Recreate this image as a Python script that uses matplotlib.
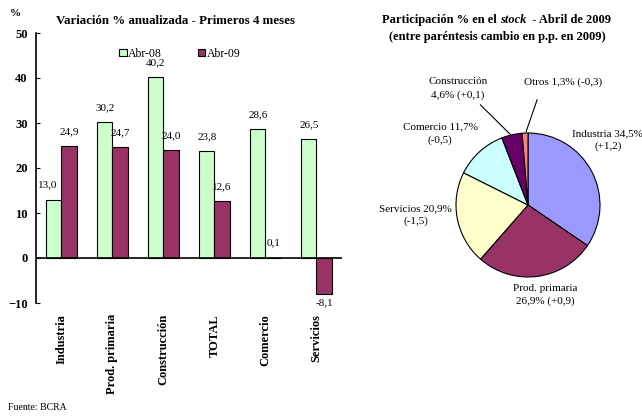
import numpy as np
import matplotlib
matplotlib.use("Agg")
import matplotlib.pyplot as plt

plt.rcParams['font.family'] = ['Liberation Serif', 'DejaVu Serif']

# --------------------------------------------------
# Data
# --------------------------------------------------

sectores = ["Industria", "Prod. primaria", "Construcción", "TOTAL", "Comercio", "Servicios"]
abr08 = [13.0, 30.2, 40.2, 23.8, 28.6, 26.5]
abr09 = [24.9, 24.7, 24.0, 12.6, 0.1, -8.1]

pie_names = ["Industria", "Prod. primaria", "Servicios", "Comercio", "Construcción", "Otros"]
pie_share = [34.5, 26.9, 20.9, 11.7, 4.6, 1.3]
pie_change = ["+1,2", "+0,9", "-1,5", "-0,5", "+0,1", "-0,3"]
pie_colors = ["#9999FF", "#993366", "#FFFFCC", "#CCFFFF", "#660066", "#FF8080"]

green = "#CCFFCC"
purple = "#993366"

W, H = 642, 416
fig = plt.figure(figsize=(W / 100, H / 100), dpi=100)


def px(x0, y0, x1, y1):
    return [x0 / W, 1 - y1 / H, (x1 - x0) / W, (y1 - y0) / H]


def fmt(v):
    return f"{v:.1f}".replace(".", ",")


# --------------------------------------------------
# Bar chart
# --------------------------------------------------

ax = fig.add_axes(px(36, 33, 342, 303))
x = np.arange(len(sectores))
bw = 0.3

ax.bar(x - bw / 2, abr08, bw, color=green, edgecolor="black", linewidth=0.8, label="Abr-08")
ax.bar(x + bw / 2, abr09, bw, color=purple, edgecolor="black", linewidth=0.8, label="Abr-09")

for i in range(len(sectores)):
    for off, v in [(-bw / 2, abr08[i]), (bw / 2, abr09[i])]:
        if i == 0 and off < 0:
            off -= 0.12   # label nudged left in the original
        if v >= 0:
            ax.text(i + off, v + 2.2, fmt(v), ha="center", va="bottom", fontsize=8)
        else:
            ax.text(i + off, v - 0.8, fmt(v), ha="center", va="top", fontsize=8)

ax.axhline(0, color="black", linewidth=1.2)
ax.set_xlim(-0.5, len(sectores) - 0.5)
ax.set_ylim(-10, 50)
ax.set_yticks(range(-10, 51, 10))
ax.tick_params(axis="y", direction="in", length=3, labelsize=9, pad=6)
for lbl in ax.get_yticklabels():
    lbl.set_fontweight("bold")
ax.set_xticks(x)
ax.set_xticklabels(sectores, rotation=90, fontsize=9, fontweight="bold", va="top")
ax.tick_params(axis="x", length=0, pad=8)
for s in ["top", "right", "bottom"]:
    ax.spines[s].set_visible(False)
ax.spines["left"].set_linewidth(1.2)

ax.legend(loc="upper center", bbox_to_anchor=(0.47, 0.985), ncol=2, frameon=False,
          fontsize=8.5, handlelength=0.6, handleheight=0.6, handletextpad=0.15,
          columnspacing=3.0)

fig.text(176 / W, 1 - 21 / H, "Variación % anualizada - Primeros 4 meses",
         ha="center", va="center", fontsize=9.3, fontweight="bold")
fig.text(10 / W, 1 - 14 / H, "%", ha="left", va="center", fontsize=8, fontweight="bold")
fig.text(8 / W, 1 - 408 / H, "Fuente: BCRA", ha="left", va="center", fontsize=7)

# --------------------------------------------------
# Pie chart
# --------------------------------------------------

pax = fig.add_axes(px(456, 133, 600, 277))
wedges, _ = pax.pie(pie_share, colors=pie_colors, startangle=90, counterclock=False,
                    wedgeprops=dict(edgecolor="black", linewidth=0.8))
pax.set_xlim(-1, 1)
pax.set_ylim(-1, 1)
pax.set_aspect("equal")

labels = [
    (f"Industria {fmt(pie_share[0])}%\n({pie_change[0]})", (1.11, 0.90)),
    (f"Prod. primaria\n{fmt(pie_share[1])}% ({pie_change[1]})", (0.24, -1.25)),
    (f"Servicios {fmt(pie_share[2])}%\n({pie_change[2]})", (-1.56, -0.14)),
    (f"Comercio {fmt(pie_share[3])}%\n({pie_change[3]})", (-1.22, 0.99)),
    (f"Construcción\n{fmt(pie_share[4])}% ({pie_change[4]})", (-0.97, 1.62)),
    (f"Otros {fmt(pie_share[5])}% ({pie_change[5]})", (0.49, 1.71)),
]
for k, (txt, pos) in enumerate(labels):
    pax.text(pos[0], pos[1], txt, ha="center", va="center", fontsize=8,
             linespacing=1.5, clip_on=False)

# leader lines for the two small slices
for k, start in [(4, (-0.69, 1.42)), (5, (0.14, 1.50))]:
    w = wedges[k]
    ang = np.deg2rad((w.theta1 + w.theta2) / 2)
    pax.annotate("", xy=(np.cos(ang) * 0.98, np.sin(ang) * 0.98), xytext=start,
                 arrowprops=dict(arrowstyle="-", color="black", linewidth=0.8),
                 annotation_clip=False)

# title with "stock" in italics
fs = 9
y = 1 - 20 / H
t1 = fig.text(497 / W, y, "Participación % en el stock  - Abril de 2009",
              ha="center", va="center", fontsize=fs, fontweight="bold", alpha=0)
fig.canvas.draw()
x0 = t1.get_window_extent().x0 / W
a = fig.text(x0, y, "Participación % en el ", ha="left", va="center",
             fontsize=fs, fontweight="bold")
b = fig.text(0, 0, "stock", fontsize=fs, fontweight="bold", style="italic",
             ha="left", va="center")
fig.canvas.draw()
b.set_position((a.get_window_extent().x1 / W, y))
fig.canvas.draw()
fig.text(b.get_window_extent().x1 / W, y, "  - Abril de 2009", ha="left", va="center",
         fontsize=fs, fontweight="bold")
fig.text(497 / W, 1 - 37 / H, "(entre paréntesis cambio en p.p. en 2009)",
         ha="center", va="center", fontsize=fs, fontweight="bold")

fig.savefig("out.png", dpi=100)
